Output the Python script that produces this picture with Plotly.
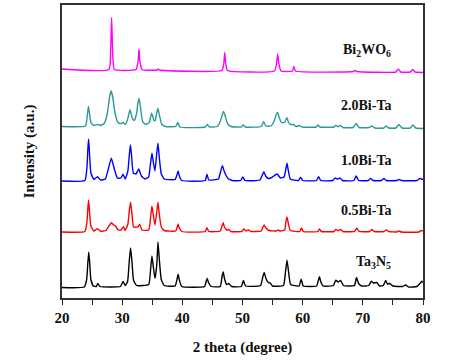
import plotly.graph_objects as go

# ---- data; y = intensity above each pattern's baseline (a.u.)
x_ta3n5 = [20, 23.7, 24.1, 24.3, 24.45, 24.6, 24.8, 25.2, 25.7, 25.95, 26.3, 29.7, 30.15, 30.5, 30.9, 31.2, 31.4, 31.6, 31.9, 32.4,
           34.4, 34.75, 34.95, 35.15, 35.45, 35.75, 35.95, 36.15, 36.5, 37.0, 38.8, 39.15, 39.3, 39.45, 39.9, 43.7, 44.0, 44.15, 44.35, 44.8,
           46.3, 46.6, 46.8, 47.0, 47.35, 47.7, 48.2, 49.8, 50.15, 50.5, 53.0, 53.35, 53.6, 53.9, 54.3, 54.6, 55.0, 56.8, 57.15, 57.4,
           57.65, 58.0, 59.4, 59.75, 60.1, 62.3, 62.65, 62.8, 63.0, 63.4, 65.1, 65.5, 65.9, 66.3, 66.8, 68.6, 68.95, 69.3, 69.8, 71.0,
           71.4, 71.8, 72.3, 72.8, 73.4, 73.8, 74.1, 74.5, 75.0, 76.6, 77.1, 77.6, 79.0, 79.5, 79.8, 80]
y_ta3n5 = [0, 0.5, 8, 25, 35.5, 25, 8, 1.5, 1, 4, 1, 1, 6, 2, 6, 28, 39.5, 28, 7, 2,
           3, 20, 31.5, 22, 9, 22, 45.5, 30, 8, 2, 1.5, 9, 13.3, 9, 1, 1, 7, 9, 5, 1,
           1, 11, 15.5, 9, 3, 4, 1, 1, 7, 1.5, 2, 10, 15, 9, 5, 4.5, 1.5, 2, 16, 27.3,
           16, 3, 1.5, 8.3, 1.5, 1.5, 8, 10.7, 6, 1.5, 2, 7.3, 5.5, 7, 2, 2, 10, 4, 1.5, 2,
           6.3, 4.5, 5, 1.5, 2, 7, 3.5, 4, 1.5, 1, 2.5, 0.5, 1, 4, 6.3, 5]

x_05 = [20, 23.8, 24.15, 24.3, 24.42, 24.55, 24.8, 25.3, 25.9, 26.4, 27.3, 27.8, 28.2, 28.6, 28.9, 29.3, 29.8, 30.2, 30.5, 30.95,
        31.2, 31.4, 31.6, 31.9, 32.6, 32.9, 33.3, 34.4, 34.75, 34.95, 35.15, 35.45, 35.75, 35.95, 36.15, 36.5, 37.0, 38.9, 39.15, 39.3,
        39.5, 39.9, 43.8, 44.1, 44.4, 46.3, 46.6, 46.8, 47.0, 47.4, 47.7, 48.1, 49.9, 50.2, 50.6, 51.0, 51.4, 53.1, 53.4, 53.6,
        53.9, 54.4, 55.6, 55.9, 56.3, 57.0, 57.2, 57.4, 57.6, 57.95, 59.5, 59.8, 60.1, 62.5, 62.8, 63.1, 65.2, 65.5, 65.9, 66.3,
        66.7, 68.6, 69.0, 69.4, 71.1, 71.5, 71.9, 73.5, 73.9, 74.3, 75.6, 76.0, 76.4, 79.3, 79.7, 80]
y_05 = [0, 0.5, 10, 24, 32, 22, 6, 1, 3.3, 0.8, 1.5, 6, 9.3, 7, 6, 2, 2, 5.3, 1.5, 8,
        22, 29.7, 20, 5, 5, 7.7, 2, 2, 16, 26, 18, 7, 20, 29.7, 19, 5, 1.5, 1, 5, 8,
        4, 0.5, 0.5, 4.3, 0.5, 1, 6, 9.3, 5, 2, 2.5, 0.5, 0.5, 3, 1, 2, 0.5, 1, 5, 7,
        4, 1.5, 1, 2, 1, 2, 10, 15, 9, 1.5, 0.5, 4, 0.5, 0.5, 3, 0.5, 0.5, 2.5, 1.5, 2.5,
        0.5, 0.5, 4, 0.5, 0.5, 2.5, 0.5, 0.5, 2, 0.5, 0, 1, 0, 0, 1.5, 1]

x_10 = [20, 23.8, 24.15, 24.3, 24.42, 24.55, 24.8, 25.3, 25.9, 26.4, 27.2, 27.7, 28.2, 28.7, 29.2, 29.8, 30.15, 30.5, 30.95, 31.2,
        31.38, 31.55, 31.85, 32.3, 32.75, 33.2, 33.8, 34.4, 34.7, 34.95, 35.15, 35.45, 35.75, 35.95, 36.15, 36.5, 37.0, 38.8, 39.1, 39.3,
        39.5, 39.9, 43.8, 44.1, 44.4, 46.0, 46.35, 46.65, 47.0, 47.6, 48.3, 49.7, 50.05, 50.4, 52.9, 53.3, 53.55, 53.85, 54.3, 54.7,
        55.2, 55.75, 56.3, 56.9, 57.2, 57.4, 57.6, 57.95, 59.3, 59.65, 60.0, 62.3, 62.65, 63.0, 65.0, 65.4, 65.8, 66.2, 66.6, 68.5,
        68.9, 69.3, 70.9, 71.3, 71.7, 73.1, 73.5, 73.9, 75.6, 76.0, 76.4, 79.0, 79.5, 80]
y_10 = [0, 0.5, 14, 32, 42, 30, 8, 1.5, 4.3, 1, 2, 12, 22.7, 12, 3, 3, 6.7, 2, 10, 27,
        36, 26, 8, 7, 12, 5, 2, 4, 17, 27.7, 20, 10, 28, 37.7, 25, 7, 2, 1.5, 6, 10,
        5, 0.5, 0.5, 6.7, 1, 2, 9, 15.3, 9, 2.5, 0.5, 0.5, 4, 0.5, 1, 6, 9.3, 5, 2.5, 3,
        5, 7, 3, 4, 12, 17.7, 11, 2, 0.5, 3.7, 0.5, 0.5, 4.3, 0.5, 0.5, 3, 2, 3, 0.5, 0.5,
        5, 0.5, 0.5, 2.5, 0.5, 0.5, 2.5, 0.5, 0.5, 1.5, 0.5, 0.5, 2.5, 1.5]

x_20 = [20, 23.9, 24.15, 24.3, 24.4, 24.55, 24.8, 25.3, 25.9, 26.4, 27.0, 27.5, 27.9, 28.15, 28.45, 28.8, 29.3, 29.8, 30.15, 30.5,
        30.9, 31.3, 31.7, 32.0, 32.4, 32.6, 32.82, 33.05, 33.4, 33.9, 34.5, 34.9, 35.3, 35.5, 35.75, 35.95, 36.2, 36.6, 37.2, 38.9,
        39.25, 39.6, 43.8, 44.15, 44.5, 45.8, 46.3, 46.6, 46.85, 47.1, 47.5, 48.1, 49.8, 50.1, 50.5, 53.1, 53.5, 53.9, 54.7, 55.3,
        55.6, 55.85, 56.1, 56.5, 57.0, 57.2, 57.4, 57.65, 58.0, 58.5, 58.9, 59.5, 59.9, 62.2, 62.55, 62.9, 65.2, 65.5, 65.9, 66.3,
        66.7, 68.4, 68.9, 69.4, 71.0, 71.5, 72.0, 73.5, 73.9, 74.3, 75.5, 76.0, 76.5, 77.9, 78.3, 78.8, 80]
y_20 = [1, 1.5, 9, 17, 21, 15, 5, 2, 3, 2, 4, 13, 30, 36.7, 30, 15, 5, 4, 5, 3,
        8, 17.7, 9, 7, 14, 24, 29, 20, 6, 3, 5, 14.3, 7, 7, 15, 19, 12, 3, 1, 1,
        5, 0.5, 0.5, 3, 0.5, 1, 6, 12, 16, 12, 4, 1, 0.5, 2.5, 0.5, 1, 5.7, 1.5, 1.5, 7,
        13, 15, 10, 5, 5, 8, 9.7, 5, 3, 3, 1, 2, 0.5, 0.5, 2.5, 0.5, 0.5, 2, 1, 2,
        0, 0, 4, 0, 0, 1.5, -0.5, -0.5, 1.5, -0.5, -0.5, 3, -0.5, -0.5, 2.5, -0.5, -1]

x_bwo = [20, 27.8, 28.1, 28.25, 28.4, 28.7, 32.3, 32.65, 32.8, 32.95, 33.3, 35.8, 36.0, 36.2, 46.6, 46.9, 47.05, 47.2, 47.5, 55.3,
         55.65, 55.85, 56.05, 56.4, 58.3, 58.55, 58.8, 68.4, 68.7, 69.0, 75.5, 75.9, 76.3, 77.9, 78.3, 78.7, 80]
y_bwo = [1, 0.5, 22, 52.5, 22, 0.5, 0.5, 9, 21, 9, 0.3, 0, 1, 0, -0.5, 7, 17.5, 7, -0.5, -1,
         6, 16, 6, -1, -1, 3.5, -1, -1.5, -0.5, -1.5, -2, 1, -2, -2, 0.5, -2, -2.5]

series_names = ["Ta<sub>3</sub>N<sub>5</sub>", "0.5Bi-Ta", "1.0Bi-Ta", "2.0Bi-Ta", "Bi<sub>2</sub>WO<sub>6</sub>"]
series_x = [x_ta3n5, x_05, x_10, x_20, x_bwo]
series_y = [y_ta3n5, y_05, y_10, y_20, y_bwo]
offsets = [10.5, 66, 117, 170.5, 228]
label_y = [36, 88, 138, 193, 248]
colors = ["#000000", "#FF0000", "#0000FF", "#2A9A96", "#FF00FF"]
x_ticks = [20, 30, 40, 50, 60, 70, 80]

FONT = "Liberation Serif, Times New Roman, serif"

fig = go.Figure()
for name, xs, ys, off, col in zip(series_names, series_x, series_y, offsets, colors):
    fig.add_trace(go.Scatter(x=xs, y=[v + off for v in ys], mode="lines",
                             line=dict(color=col, width=1.4, shape="spline", smoothing=0.4),
                             name=name, showlegend=False))

for name, ly in zip(series_names, label_y):
    fig.add_annotation(x=75, y=ly, xref="x", yref="y", text=name, showarrow=False,
                       xanchor="right", yanchor="middle",
                       font=dict(family=FONT, size=14, color="#111", weight="bold"))

fig.update_layout(
    width=449, height=360,
    margin=dict(l=62, r=26, t=5, b=62),
    paper_bgcolor="white", plot_bgcolor="white",
    font=dict(family=FONT, color="#111"),
)
fig.update_xaxes(range=[20, 80], tickvals=x_ticks, ticktext=[str(t) for t in x_ticks],
                 ticks="outside", ticklen=5, tickwidth=1.3, tickcolor="#222", automargin=False,
                 minor=dict(dtick=5, tick0=20, ticks="outside", ticklen=5, tickwidth=1.3, tickcolor="#222"),
                 showline=True, mirror=True, linecolor="#333", linewidth=1.6, showgrid=False, zeroline=False,
                 tickfont=dict(family=FONT, size=15, weight="bold"),
                 title=dict(text="2 theta (degree)", standoff=17, font=dict(family=FONT, size=15, weight="bold")))
fig.update_yaxes(range=[0, 293], showticklabels=False, ticks="", automargin=False,
                 showline=True, mirror=True, linecolor="#333", linewidth=1.6, showgrid=False, zeroline=False,
                 title=dict(text="Intensity (a.u.)", standoff=22, font=dict(family=FONT, size=15, weight="bold")))

fig.write_html("out.html", config={"displayModeBar": False},
               post_script="document.body.style.margin='0px';")
